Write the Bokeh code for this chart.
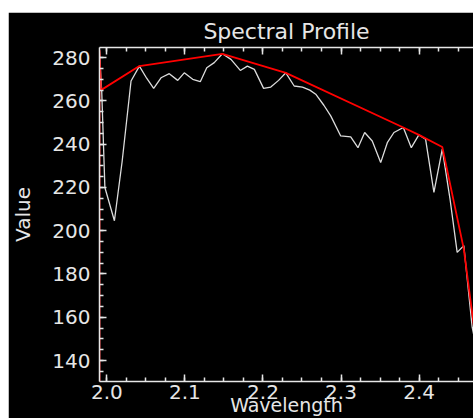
from bokeh.plotting import figure
from bokeh.models import Range1d, LinearAxis, SingleIntervalTicker, Spacer, NumeralTickFormatter
from bokeh.layouts import column, row
from bokeh.embed import file_html
from bokeh.resources import INLINE

# ---- data ----
wavelength = [1.9906, 1.9935, 1.9975, 2.0097, 2.0196, 2.0310, 2.0417, 2.0510, 2.0600, 2.0694,
              2.0800, 2.0908, 2.0992, 2.1100, 2.1197, 2.1280, 2.1376, 2.1480, 2.1590,
              2.1710, 2.1800, 2.1890, 2.2008, 2.2100, 2.2200, 2.2293, 2.2400, 2.2506,
              2.2600, 2.2676, 2.2780, 2.2868, 2.2996, 2.3124, 2.3217, 2.3303, 2.3400,
              2.3508, 2.3593, 2.3678, 2.3798, 2.3900, 2.3997, 2.4083, 2.4190, 2.4297,
              2.4395, 2.4488, 2.4573, 2.4680, 2.4766]
spectrum = [283.0, 264.0, 220.0, 204.6, 232.0, 269.2, 276.1, 270.5, 265.8, 270.7,
            272.6, 269.5, 273.0, 270.0, 268.9, 275.3, 277.7, 281.8, 279.2,
            274.1, 276.1, 274.6, 265.8, 266.4, 269.5, 273.0, 266.9, 266.4,
            265.0, 263.1, 258.0, 253.1, 243.8, 243.4, 238.4, 245.4, 241.5,
            231.5, 240.7, 245.4, 247.7, 238.4, 244.3, 242.3, 217.7, 237.7,
            215.0, 190.0, 193.1, 155.4, 140.0]

hull_wavelength = [1.9906, 1.9906, 1.9925, 2.0417, 2.1480, 2.2293, 2.3798, 2.3997,
                   2.4297, 2.4573, 2.4766]
hull_value = [125.0, 283.5, 265.0, 276.1, 281.8, 273.0, 247.7, 244.3,
              238.7, 191.5, 138.0]

x_tick_step = 0.1
y_tick_step = 20
title_text = "Spectral Profile"
x_label = "Wavelength"
y_label = "Value"

X_MIN, X_MAX = 1.9906, 2.4697
Y_MIN, Y_MAX = 130.3, 284.7

FONT = "DejaVu Sans"
FG = "#e6e6e6"

p = figure(width=465, height=406, x_range=Range1d(X_MIN, X_MAX),
           y_range=Range1d(Y_MIN, Y_MAX), output_backend="svg",
           toolbar_location=None, background_fill_color="black",
           border_fill_color="black", outline_line_color=None,
           min_border_left=90, min_border_right=0, min_border_top=35,
           min_border_bottom=37)
p.grid.visible = False

p.title.text = title_text
p.title.align = "center"
p.title.text_color = FG
p.title.text_font = FONT
p.title.text_font_size = "22px"
p.title.text_font_style = "normal"
p.title.standoff = 7

def style_axis(ax, labels=True):
    ax.axis_line_color = FG
    ax.axis_line_width = 1.5
    ax.major_tick_line_color = FG
    ax.minor_tick_line_color = FG
    ax.major_tick_line_width = 1.5
    ax.minor_tick_line_width = 1.5
    ax.major_tick_in = 7
    ax.major_tick_out = 0
    ax.minor_tick_in = 4
    ax.minor_tick_out = 0
    ax.major_label_text_font = FONT
    if labels:
        ax.major_label_text_color = FG
        ax.major_label_text_font_size = "20px"
    else:
        ax.major_label_text_color = None
        ax.major_label_text_font_size = "1px"
        ax.major_label_standoff = 0

xb = p.xaxis[0]
xb.ticker = SingleIntervalTicker(interval=x_tick_step, num_minor_ticks=4)
xb.formatter = NumeralTickFormatter(format="0.0")
style_axis(xb)
xb.major_label_standoff = 3
xb.axis_label = x_label
xb.axis_label_text_font = FONT
xb.axis_label_text_font_size = "19px"
xb.axis_label_text_font_style = "normal"
xb.axis_label_text_color = FG
xb.axis_label_standoff = -8

yl = p.yaxis[0]
yl.ticker = SingleIntervalTicker(interval=y_tick_step, num_minor_ticks=4)
style_axis(yl)
yl.major_label_standoff = 9
yl.axis_label = y_label
yl.axis_label_text_font = FONT
yl.axis_label_text_font_size = "20px"
yl.axis_label_text_font_style = "normal"
yl.axis_label_text_color = FG
yl.axis_label_standoff = 14

xt = LinearAxis(ticker=SingleIntervalTicker(interval=x_tick_step, num_minor_ticks=4))
style_axis(xt, labels=False)
p.add_layout(xt, "above")

p.line(wavelength, spectrum, line_color="#dcdcdc", line_width=1.3)
p.line(hull_wavelength, hull_value, line_color="#ff0000", line_width=1.8)

layout = column(Spacer(width=473, height=12),
                row(Spacer(width=8, height=406), p, spacing=0),
                spacing=0)
open("out.html", "w").write(file_html(layout, INLINE))
